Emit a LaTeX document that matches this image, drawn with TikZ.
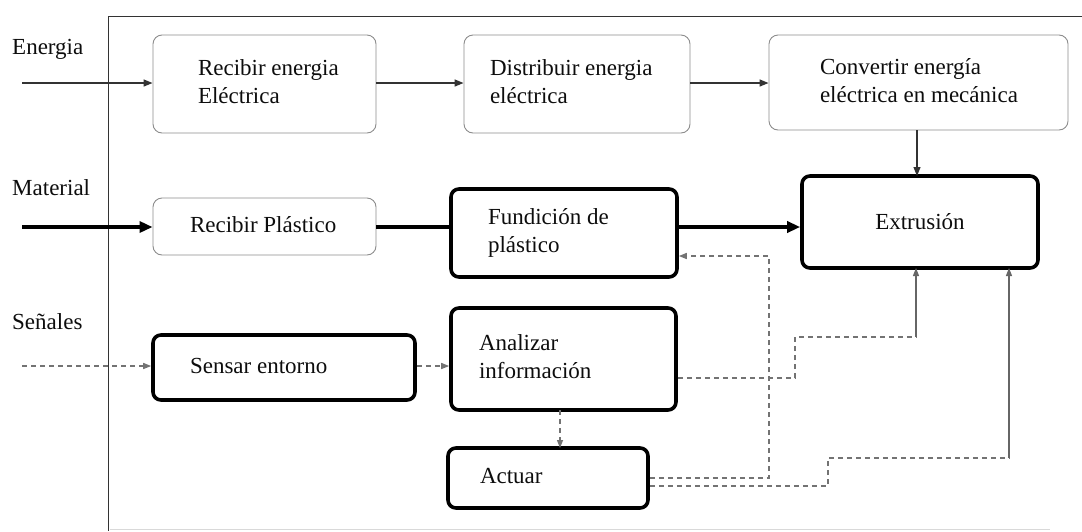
\documentclass[tikz,border=0pt]{standalone}
\usepackage{fontspec}
\setmainfont{Liberation Serif}
\usetikzlibrary{arrows.meta}
\newcommand\padtext[3]{\makebox[#1][l]{\hspace*{#2}\begin{tabular}{@{}l@{}}#3\end{tabular}}}
\tikzset{
  base/.style={rounded corners=9pt, inner sep=0pt, text=black!95, font=\fontsize{23}{28}\selectfont},
  thinbox/.style={base, draw=black!45, line width=0.9pt},
  thickbox/.style={base, draw=black, line width=3.6pt, rounded corners=8pt},
  lbl/.style={anchor=west, inner sep=0pt, text=black!95, font=\fontsize{23}{28}\selectfont},
  earrow/.style={draw=black!80, line width=1.4pt, -{Triangle[length=9pt,width=7pt]}},
  marrow/.style={draw=black, line width=3.6pt, -{Triangle[length=13pt,width=11pt]}},
  mline/.style={draw=black, line width=3.6pt},
  dline/.style={draw=black!55, line width=1.3pt, dash pattern=on 5pt off 4pt},
  darrow/.style={dline, -{Triangle[length=8pt,width=6pt]}},
  sline/.style={draw=black!60, line width=1.2pt},
  sarrow/.style={sline, -{Triangle[length=8pt,width=6pt]}},
}
\begin{document}
\begin{tikzpicture}[x=1pt,y=-1pt]
\useasboundingbox (0,0) rectangle (1082,531);
% frame
\draw[black!80, line width=1pt] (1082,16) -- (108,16) -- (108,531);
\draw[black!15, line width=0.8pt] (110,529) -- (1050,529);
% side labels
\node[lbl] (lE) at (12,49) {Energia};
\node[lbl] (lM) at (12,188) {Material};
\node[lbl] (lS) at (12,322) {Señales};
% boxes
\node[thinbox, minimum width=223pt, minimum height=98pt] (rei) at (264.5,84)
  {\padtext{223pt}{45pt}{Recibir energia\\Eléctrica}};
\node[thinbox, minimum width=226pt, minimum height=98pt] (dis) at (577,84)
  {\padtext{226pt}{26pt}{Distribuir energia\\eléctrica}};
\node[thinbox, minimum width=299pt, minimum height=95pt] (conv) at (918.5,82.5)
  {\padtext{299pt}{51pt}{Convertir energía\\eléctrica en mecánica}};
\node[thinbox, minimum width=223pt, minimum height=57pt] (rp) at (264.5,226.5)
  {\padtext{223pt}{37pt}{Recibir Plástico}};
\node[thickbox, minimum width=226pt, minimum height=88pt] (fun) at (564,233)
  {\padtext{226pt}{37pt}{Fundición de\\plástico}};
\node[thickbox, minimum width=236pt, minimum height=92pt] (ext) at (920,222)
  {Extrusión};
\node[thickbox, minimum width=262pt, minimum height=65pt] (sen) at (284,367.5)
  {\padtext{262pt}{37pt}{Sensar entorno}};
\node[thickbox, minimum width=225pt, minimum height=102pt] (ana) at (563.5,359)
  {\padtext{225pt}{28pt}{Analizar\\información}};
\node[thickbox, minimum width=200pt, minimum height=60pt] (act) at (548,478)
  {\padtext{200pt}{32pt}{Actuar}};
% free ends
\coordinate (eIn) at (22,83);
\coordinate (mIn) at (22,227);
\coordinate (sIn) at (22,366);
% energy flow
\draw[earrow] (eIn) -- (eIn -| rei.west);
\draw[earrow] (rei.east |- eIn) -- (dis.west |- eIn);
\draw[earrow] (dis.east |- eIn) -- (conv.west |- eIn);
\draw[earrow, line width=1.1pt] (917,130) -- (917,176);
% material flow
\draw[marrow] (mIn) -- (mIn -| rp.west);
\draw[mline] (rp.east |- mIn) -- (fun.west |- mIn);
\draw[marrow] (fun.east |- mIn) -- (ext.west |- mIn);
% signals
\draw[darrow] (sIn) -- (sIn -| sen.west);
\draw[darrow] (sen.east |- sIn) -- (ana.west |- sIn);
\draw[darrow] (560,410) -- (560,448);
% Actuar -> Fundicion
\draw[darrow] (act.east |- 0,478) -- (769,478) -- (769,256) -- (fun.east |- 0,256);
% Analizar -> Extrusion
\draw[dline] (ana.east |- 0,378) -- (795,378) -- (795,337) -- (916,337);
\draw[sarrow] (916,337) -- (916,268);
% Actuar -> Extrusion
\draw[dline] (act.east |- 0,486) -- (828,486) -- (828,458) -- (1009,458);
\draw[sarrow] (1009,458) -- (1009,268);
\end{tikzpicture}
\end{document}
